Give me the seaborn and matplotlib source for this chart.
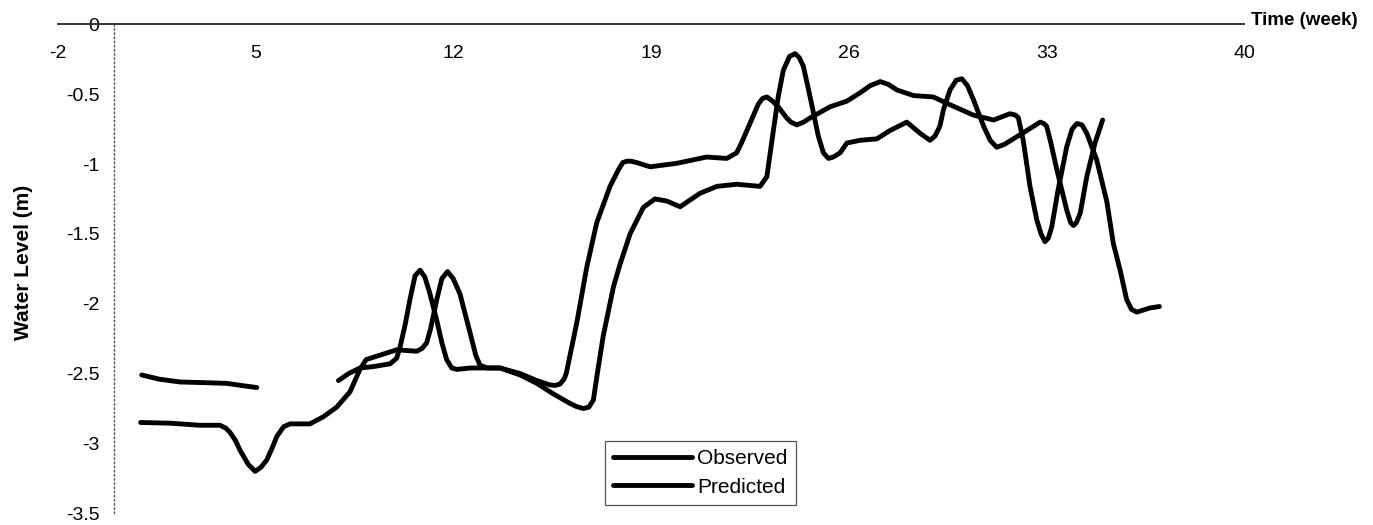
import numpy as np
import pandas as pd
import matplotlib
matplotlib.use("Agg")
import matplotlib.pyplot as plt
import seaborn as sns

# --- values (week, water level in m) ---
obs_week_1 = [0.98, 1.6, 2.33, 3.2, 3.99, 4.5, 5.05]
obs_level_1 = [-2.51, -2.54, -2.56, -2.565, -2.57, -2.585, -2.60]

obs_week_2 = [7.94, 8.3, 8.7, 9.17, 9.77, 10.0, 10.12, 10.3, 10.47, 10.65,
              10.83, 11.0, 11.18, 11.42, 11.6, 11.77, 11.95, 12.13, 12.6, 13.19,
              13.66, 14.37, 14.96, 15.4, 15.6, 15.78, 15.92, 16.0, 16.37, 16.73,
              17.08, 17.55, 17.85, 18.0, 18.14, 18.3, 18.5, 18.97, 19.91, 20.97,
              21.68, 22.03, 22.2, 22.5, 22.8, 22.95, 23.1, 23.3, 23.5, 23.8,
              23.95, 24.16, 24.4, 24.63, 25.34, 25.93, 26.4, 26.75, 27.11, 27.4,
              27.7, 28.29, 28.99, 29.46, 30.41, 31.12, 31.7, 31.9, 32.0, 32.17,
              32.41, 32.65, 32.8, 32.94, 33.06, 33.18, 33.4, 33.71, 33.9, 34.07,
              34.25, 34.42, 34.77, 35.13, 35.36, 35.6, 35.83, 36.0, 36.19, 36.66,
              36.99]
obs_level_2 = [-2.55, -2.50, -2.46, -2.45, -2.43, -2.39, -2.31, -2.15, -1.97, -1.80,
               -1.76, -1.81, -1.93, -2.12, -2.28, -2.40, -2.46, -2.47, -2.46, -2.46,
               -2.46, -2.50, -2.55, -2.58, -2.585, -2.575, -2.54, -2.50, -2.14, -1.735,
               -1.42, -1.16, -1.04, -0.99, -0.98, -0.98, -0.99, -1.02, -0.995, -0.95,
               -0.96, -0.92, -0.85, -0.71, -0.57, -0.53, -0.52, -0.55, -0.59, -0.67,
               -0.70, -0.72, -0.70, -0.67, -0.59, -0.55, -0.49, -0.44, -0.41, -0.43,
               -0.47, -0.51, -0.52, -0.565, -0.65, -0.685, -0.64, -0.65, -0.67, -0.83,
               -1.16, -1.40, -1.50, -1.556, -1.53, -1.45, -1.19, -0.876, -0.75, -0.71,
               -0.72, -0.78, -0.97, -1.27, -1.57, -1.76, -1.97, -2.04, -2.06, -2.03,
               -2.02]

pred_week = [0.94, 1.98, 3.04, 3.75, 3.95, 4.1, 4.3, 4.46, 4.75, 4.99,
             5.2, 5.4, 5.6, 5.76, 6.0, 6.23, 6.93, 7.4, 7.88, 8.35,
             8.7, 8.92, 10.0, 10.71, 10.9, 11.06, 11.2, 11.42, 11.6, 11.8,
             12.0, 12.24, 12.6, 12.8, 12.95, 13.2, 13.66, 14.37, 14.96, 15.5,
             16.1, 16.35, 16.6, 16.8, 16.96, 17.1, 17.31, 17.67, 17.9, 18.26,
             18.73, 19.14, 19.56, 20.03, 20.73, 21.33, 22.03, 22.86, 23.1, 23.33,
             23.5, 23.68, 23.9, 24.1, 24.25, 24.39, 24.63, 24.92, 25.1, 25.28,
             25.45, 25.69, 25.93, 26.4, 26.99, 27.46, 28.05, 28.52, 28.87, 29.05,
             29.22, 29.35, 29.58, 29.8, 30.0, 30.2, 30.41, 30.77, 31.0, 31.23,
             31.5, 31.82, 32.3, 32.77, 32.9, 33.0, 33.15, 33.36, 33.71, 33.85,
             33.95, 34.05, 34.19, 34.42, 34.71, 34.98]
pred_level = [-2.85, -2.855, -2.87, -2.87, -2.89, -2.92, -2.98, -3.05, -3.15, -3.20,
              -3.17, -3.12, -3.03, -2.95, -2.88, -2.86, -2.86, -2.81, -2.74, -2.63,
              -2.47, -2.40, -2.33, -2.34, -2.32, -2.28, -2.18, -1.97, -1.82, -1.77,
              -1.82, -1.93, -2.21, -2.37, -2.44, -2.46, -2.46, -2.51, -2.57, -2.64,
              -2.71, -2.735, -2.75, -2.74, -2.69, -2.50, -2.23, -1.88, -1.72, -1.50,
              -1.31, -1.25, -1.265, -1.306, -1.21, -1.16, -1.145, -1.16, -1.09, -0.76,
              -0.52, -0.33, -0.23, -0.21, -0.24, -0.30, -0.52, -0.80, -0.92, -0.96,
              -0.95, -0.92, -0.85, -0.83, -0.82, -0.76, -0.70, -0.78, -0.83, -0.80,
              -0.73, -0.61, -0.47, -0.40, -0.39, -0.44, -0.54, -0.73, -0.83, -0.88,
              -0.86, -0.82, -0.76, -0.70, -0.71, -0.73, -0.85, -1.04, -1.33, -1.42,
              -1.44, -1.42, -1.35, -1.09, -0.85, -0.685]

x_ticks = [-2, 5, 12, 19, 26, 33, 40]
x_tick_labels = ["-2", "5", "12", "19", "26", "33", "40"]
y_ticks = [0, -0.5, -1, -1.5, -2, -2.5, -3, -3.5]
y_tick_labels = ["0", "-0.5", "-1", "-1.5", "-2", "-2.5", "-3", "-3.5"]

# long table, one unit per unbroken stretch of line
parts = [("Observed", "obs1", obs_week_1, obs_level_1),
         ("Observed", "obs2", obs_week_2, obs_level_2),
         ("Predicted", "pred", pred_week, pred_level)]
df = pd.concat([pd.DataFrame({"week": w, "level": v, "series": s, "segment": seg})
                for s, seg, w, v in parts], ignore_index=True)

sns.set_theme(style="white")
plt.rcParams["font.family"] = ["Liberation Sans", "DejaVu Sans"]
plt.rcParams["axes.unicode_minus"] = False
plt.rcParams["text.color"] = "black"
plt.rcParams["axes.labelcolor"] = "black"

fig = plt.figure(figsize=(13.73, 5.25), dpi=100)
ax = fig.add_axes([0.0419, 0.0223, 0.8645, 0.9314])

sns.lineplot(data=df, x="week", y="level", hue="series", units="segment",
             estimator=None, palette={"Observed": "black", "Predicted": "black"},
             linewidth=3.5, ax=ax, legend=True)
for line in ax.get_lines():
    line.set_solid_capstyle("round")
    line.set_solid_joinstyle("round")

ax.set_xlim(-2, 40)
ax.set_ylim(-3.5, 0)

# Excel-like axes: category axis drawn along y = 0 (top), value axis at x = 0
for side in ["top", "right"]:
    ax.spines[side].set_visible(False)
ax.spines["bottom"].set_position(("data", 0))
ax.spines["bottom"].set_color("#333333")
ax.spines["bottom"].set_linewidth(1.4)
ax.spines["left"].set_position(("data", 0))
ax.spines["left"].set_linestyle((0, (1, 2)))
ax.spines["left"].set_color("#555555")
ax.spines["left"].set_linewidth(1.0)

ax.set_xticks(x_ticks)
ax.set_xticklabels(x_tick_labels)
ax.set_yticks(y_ticks)
ax.set_yticklabels(y_tick_labels)
ax.tick_params(axis="x", direction="out", length=3, width=1, pad=12,
               labelsize=14, colors="black")
ax.tick_params(axis="y", direction="out", length=3.5, width=1, pad=7,
               labelsize=14, colors="black")
ax.grid(False)

ax.set_xlabel("")
ax.set_ylabel("Water Level (m)", fontsize=15, fontweight="bold", va="center",
              color="black")
ax.yaxis.set_label_coords(-0.029, 0.514)
ax.annotate("Time (week)", xy=(1, 1), xycoords="axes fraction",
            xytext=(5, 3), textcoords="offset points",
            ha="left", va="center", fontsize=13.5, fontweight="bold",
            color="black")

handles, labels = ax.get_legend_handles_labels()
leg = ax.legend(handles, labels, loc="upper left", bbox_to_anchor=(0.461, 0.148),
                borderaxespad=0, fontsize=15, handlelength=3.8, handletextpad=0.25,
                labelspacing=0.45, borderpad=0.4, frameon=True, fancybox=False,
                edgecolor="#555555", framealpha=1, labelcolor="black")
leg.get_frame().set_linewidth(0.9)
for h in leg.legend_handles:
    h.set_linewidth(3.5)
    h.set_color("black")

fig.savefig("out.png", dpi=100, facecolor="white")
